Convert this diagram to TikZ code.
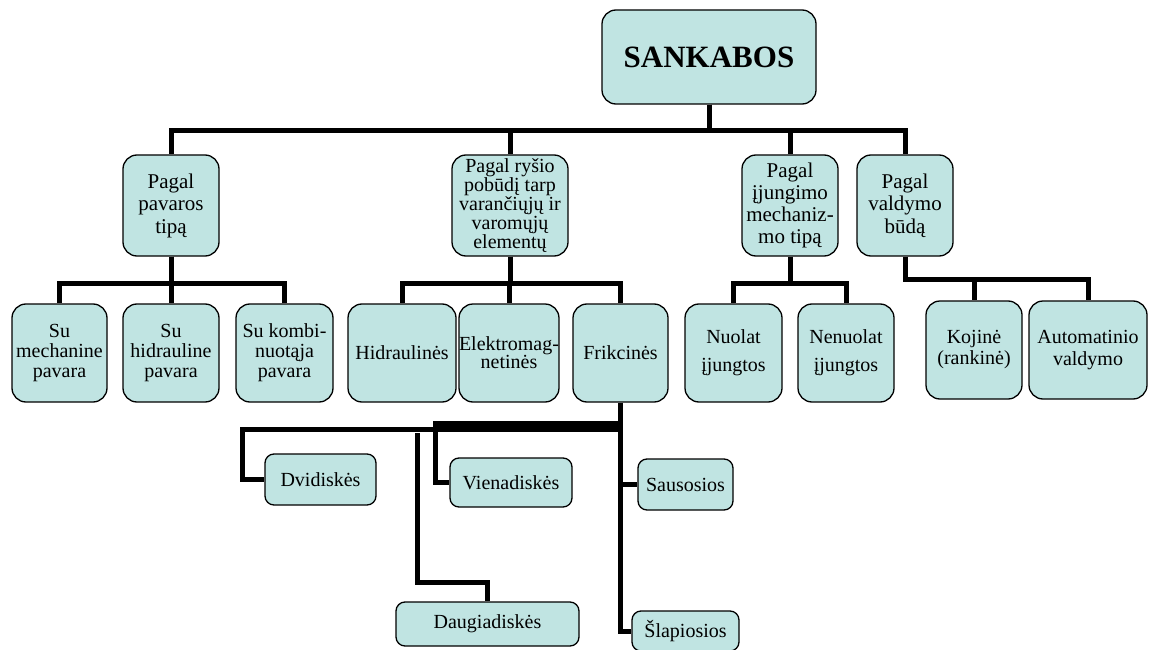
\documentclass[tikz,border=0pt]{standalone}
\usepackage{fontspec}
\setmainfont{Liberation Serif}
\usepackage{tikz}
\usetikzlibrary{positioning, calc}
\definecolor{boxteal}{RGB}{192, 228, 226}
\tikzstyle{cbox} = [draw=black, line width=1.3pt, fill=boxteal, rounded corners=14pt, align=center, inner sep=0pt, font=\fontsize{20}{20}\selectfont]
\tikzstyle{sbox} = [cbox, rounded corners=9pt]
\tikzstyle{conn} = [line width=5pt, black]

\begin{document}
\begin{tikzpicture}[x=1pt, y=-1pt]
    \useasboundingbox (0,0) rectangle (1149,650);

    % Root
    \node[cbox, minimum width=214, minimum height=94, font=\fontsize{31}{31}\selectfont\bfseries] (root) at (709,57) {SANKABOS};

    % Classification criteria
    \node[cbox, minimum width=96, minimum height=101, font=\fontsize{21}{22.5}\selectfont] (pav) at (171,205.5) {Pagal\\pavaros\\tipą};
    \node[cbox, minimum width=116, minimum height=101, font=\fontsize{20}{19}\selectfont] (rys) at (510,205.5) {Pagal ryšio\\pobūdį tarp\\varančiųjų ir\\varomųjų\\elementų};
    \node[cbox, minimum width=96, minimum height=101, font=\fontsize{21}{22}\selectfont] (ijn) at (790,205.5) {Pagal\\įjungimo\\mechaniz-\\mo tipą};
    \node[cbox, minimum width=96, minimum height=101, font=\fontsize{21}{22.5}\selectfont] (val) at (905,205.5) {Pagal\\valdymo\\būdą};

    % Clutch types
    \node[cbox, minimum width=95, minimum height=98] (smech) at (59.5,353) {Su\\mechanine\\pavara};
    \node[cbox, minimum width=96, minimum height=98] (shid) at (171,353) {Su\\hidrauline\\pavara};
    \node[cbox, minimum width=97, minimum height=98] (skomb) at (284.5,353) {Su kombi-\\nuotąja\\pavara};
    \node[cbox, minimum width=108, minimum height=98] (hidr) at (402,353) {Hidraulinės};
    \node[cbox, minimum width=96, minimum height=98, font=\fontsize{20}{18}\selectfont] (elek) at (509,353) {Elektromag-\\netinės};
    \node[cbox, minimum width=95, minimum height=98] (frik) at (620.5,353) {Frikcinės};
    \node[cbox, minimum width=97, minimum height=98, font=\fontsize{20}{28}\selectfont] (nuol) at (733.5,353) {Nuolat\\įjungtos};
    \node[cbox, minimum width=96, minimum height=98, font=\fontsize{20}{28}\selectfont] (nenu) at (846,353) {Nenuolat\\įjungtos};
    \node[cbox, minimum width=96, minimum height=98, font=\fontsize{20}{21}\selectfont] (koj) at (974,350) {Kojinė\\(rankinė)};
    \node[cbox, minimum width=118, minimum height=98, font=\fontsize{20}{22}\selectfont] (auto) at (1088,350) {Automatinio\\valdymo};

    % Friction clutch subtypes
    \node[sbox, minimum width=111, minimum height=51] (dvi) at (320.5,479.5) {Dvidiskės};
    \node[sbox, minimum width=122, minimum height=49] (vie) at (511,482.5) {Vienadiskės};
    \node[sbox, minimum width=183, minimum height=44] (dau) at (487.5,624) {Daugiadiskės};
    \node[sbox, minimum width=95, minimum height=51] (sau) at (685.5,484.5) {Sausosios};
    \node[sbox, minimum width=107, minimum height=40] (sla) at (685.5,631) {Šlapiosios};

    % Tree connectors
    \foreach \c in {pav,rys,ijn,val}
        \draw[conn] (root.south) -- ++(0,26) -| (\c.north);
    \foreach \p/\c in {pav/smech, pav/shid, pav/skomb, rys/hidr, rys/elek, rys/frik, ijn/nuol, ijn/nenu}
        \draw[conn] (\p.south) -- ++(0,27) -| (\c.north);
    \foreach \c in {koj,auto}
        \draw[conn] (val.south) -- ++(0,23) -| (\c.north);

    % Friction branch
    \coordinate (dvicorner) at (242,429);
    \coordinate (viecorner) at (435,425);
    \coordinate (daustub) at (417,433);
    \draw[conn] (frik.south) |- (sla.west);
    \draw[conn] (frik.south |- sau.west) -- (sau.west);
    \draw[conn] (frik.south |- dvicorner) -- (dvicorner) |- (dvi.west);
    \draw[conn] (frik.south |- viecorner) -- (viecorner) |- (vie.west);
    \draw[conn, line width=8pt] (frik.south |- viecorner) -- ([xshift=-2.5]viecorner);
    \draw[conn] (daustub) -- (daustub |- 0,582) -| (dau.north);
\end{tikzpicture}
\end{document}
